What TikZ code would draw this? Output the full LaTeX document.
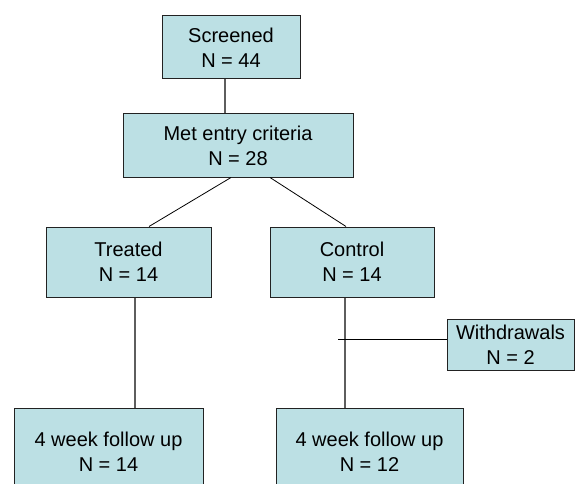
\documentclass[tikz,border=0pt]{standalone}
\usepackage{fontspec}
\setmainfont{Liberation Sans}
\definecolor{boxfill}{HTML}{BCE0E4}
\definecolor{boxline}{HTML}{222222}
\definecolor{linkgray}{HTML}{5E5E5E}
\begin{document}
\begin{tikzpicture}[x=1pt,y=-1pt,
  flowbox/.style={draw=boxline,line width=1pt,fill=boxfill,rectangle,align=center,
    inner sep=0pt,font=\fontsize{20}{25}\selectfont},
  graylink/.style={draw=linkgray,line width=1.4pt},
  thinlink/.style={draw=black,line width=0.8pt}]
\useasboundingbox (0,0) rectangle (575,484);
\node[flowbox,minimum width=138pt,minimum height=63pt] (scr) at (231,47.5) {Screened\\N = 44};
\node[flowbox,minimum width=230pt,minimum height=63pt] (met) at (238,145.5) {Met entry criteria\\N = 28};
\node[flowbox,minimum width=165pt,minimum height=70pt] (tr) at (128.5,262) {Treated\\N = 14};
\node[flowbox,minimum width=164pt,minimum height=70pt] (ct) at (352,262) {Control\\N = 14};
\node[flowbox,minimum width=127pt,minimum height=51pt] (wd) at (510.5,344.5) {Withdrawals\\N = 2};
\node[flowbox,minimum width=189pt,minimum height=88pt] (fa) at (108.5,452) {4 week follow up\\N = 14};
\node[flowbox,minimum width=187pt,minimum height=88pt] (fb) at (369.5,452) {4 week follow up\\N = 12};
\coordinate (wdend) at (338,339);
\draw[graylink] ([xshift=-6pt]scr.south) -- ([xshift=-13pt]met.north);
\draw[thinlink] ([xshift=-7pt]met.south) -- ([xshift=20.5pt]tr.north);
\draw[thinlink] ([xshift=32pt]met.south) -- ([xshift=-6pt]ct.north);
\draw[graylink] ([xshift=6.5pt]tr.south) -- ([xshift=26.5pt]fa.north);
\draw[graylink] ([xshift=-7pt]ct.south) -- ([xshift=-24.5pt]fb.north);
\draw[thinlink] (wdend) -- ([yshift=5.5pt]wd.west);
\end{tikzpicture}
\end{document}
